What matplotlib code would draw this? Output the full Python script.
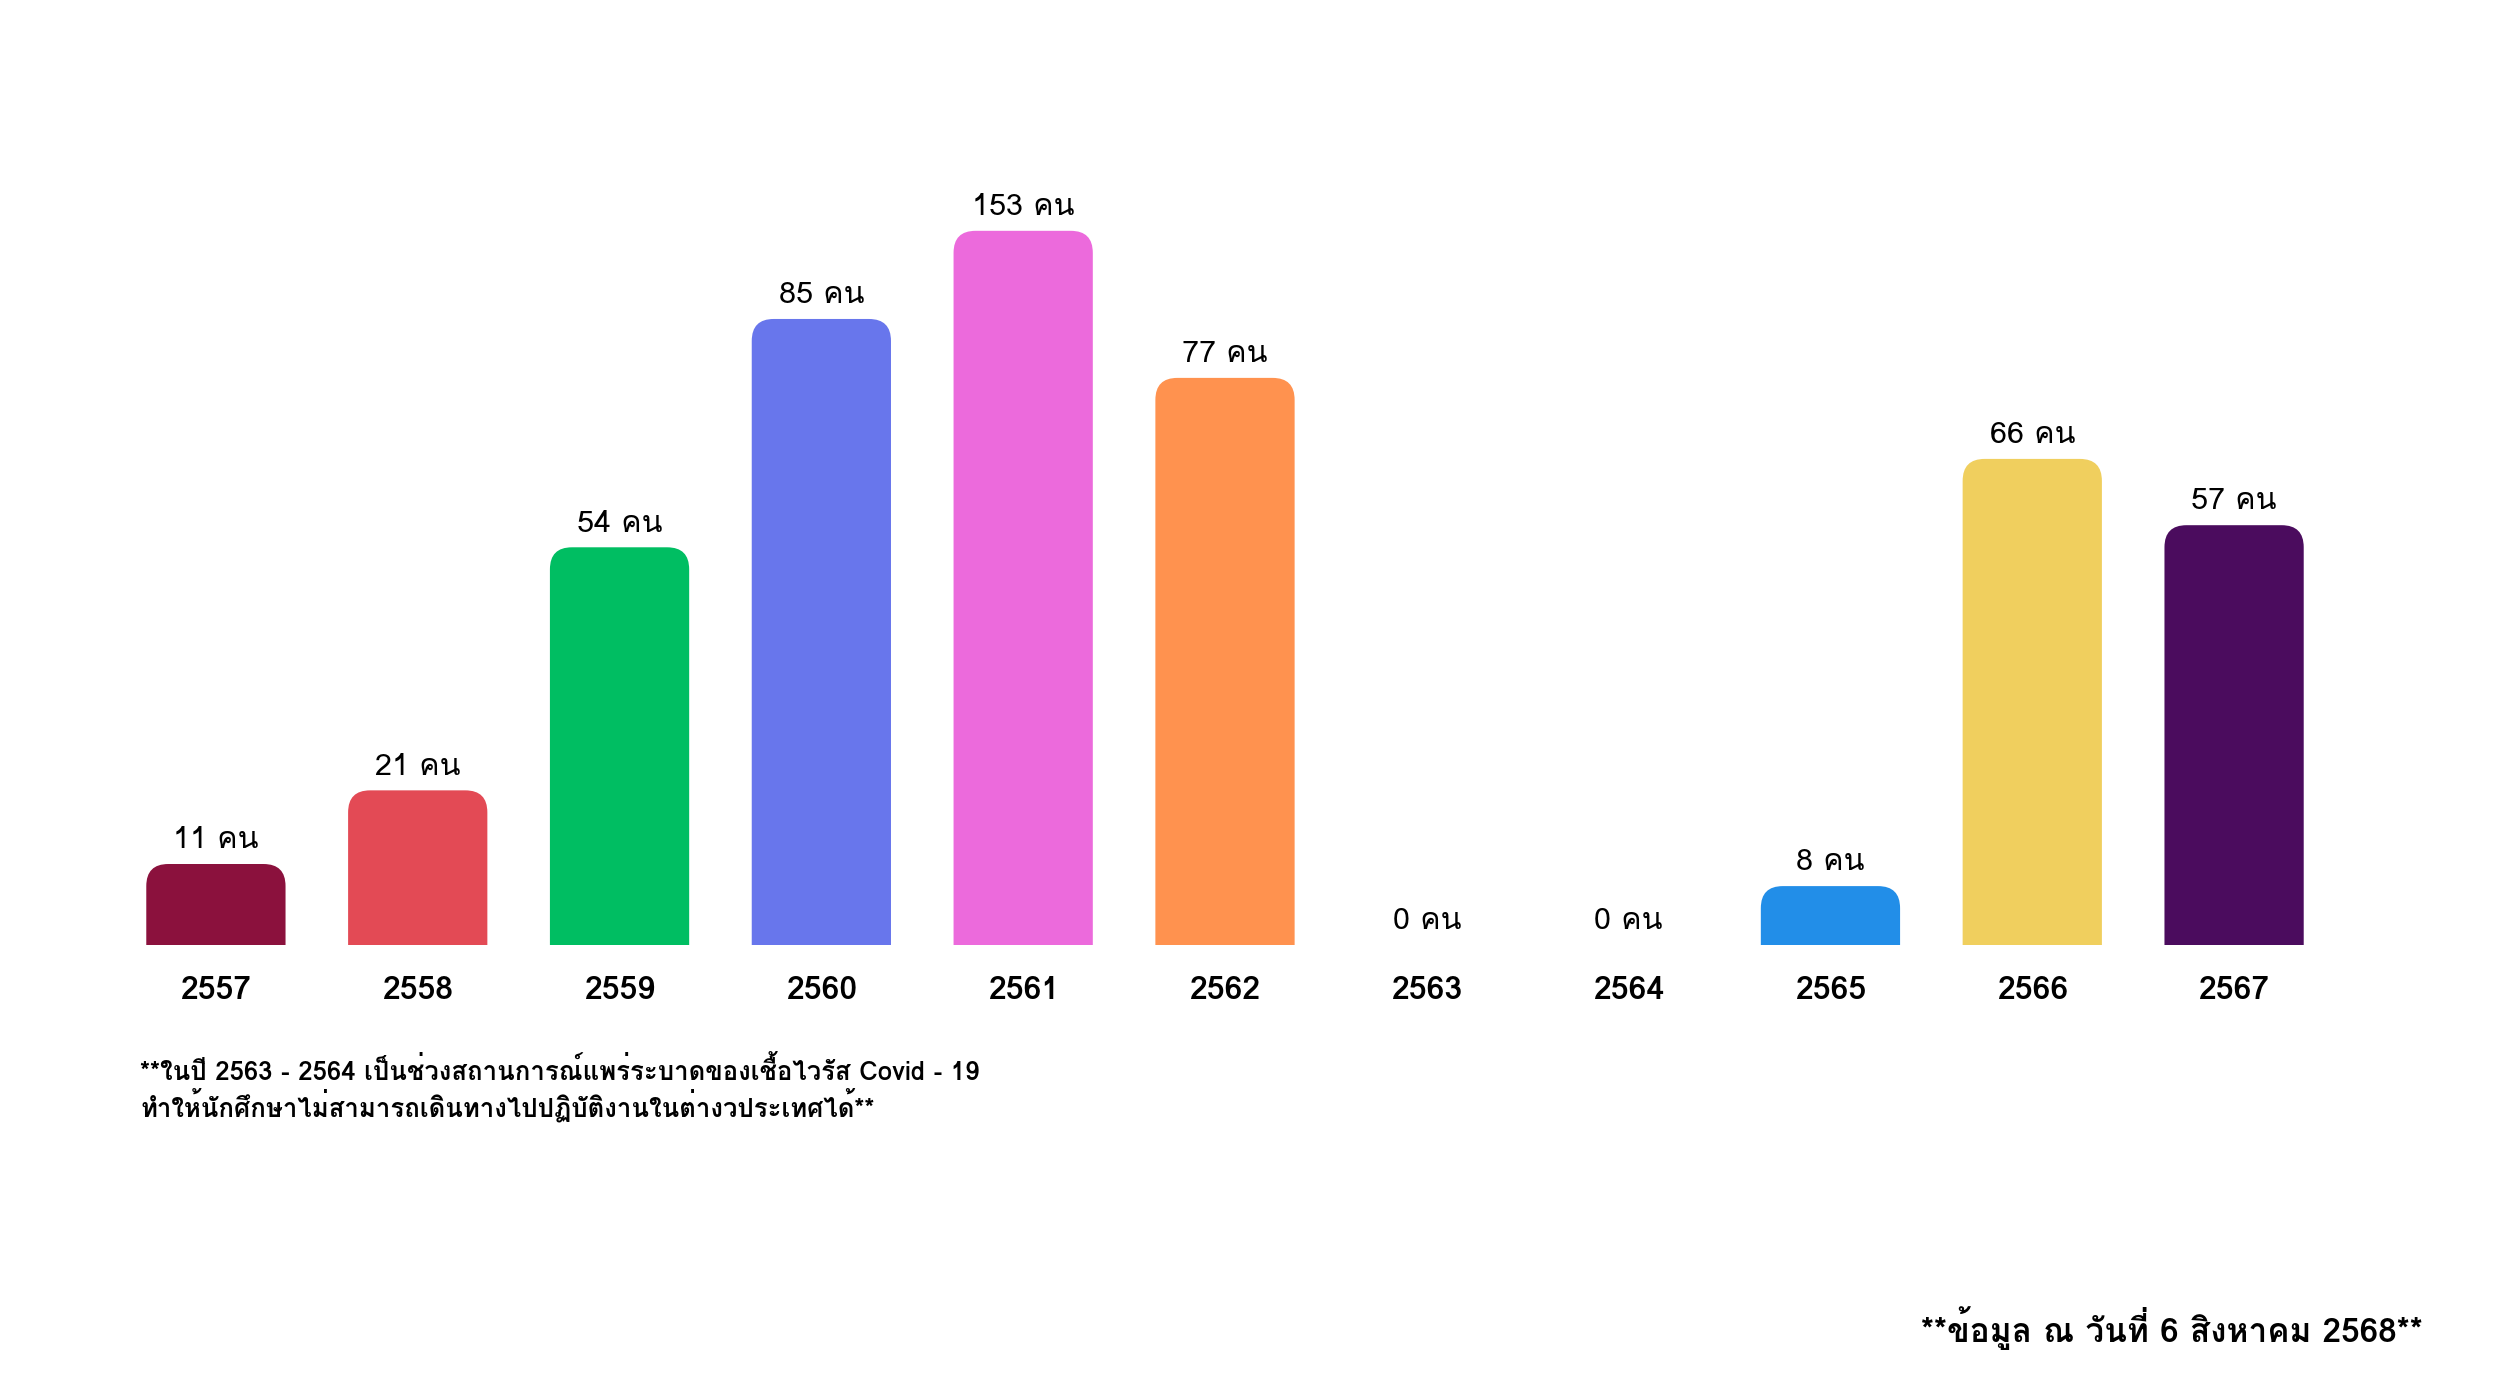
import numpy as np
import matplotlib
matplotlib.use('Agg')
import matplotlib.pyplot as plt
from matplotlib import font_manager
from matplotlib.ft2font import FT2Font
from matplotlib.patches import FancyBboxPatch
from matplotlib.transforms import IdentityTransform

years = ['2557', '2558', '2559', '2560', '2561', '2562', '2563', '2564', '2565', '2566', '2567']
students = [11, 21, 54, 85, 153, 77, 0, 0, 8, 66, 57]
colors = ['#8B113D', '#E34A55', '#00BE62', '#6876EC', '#EC6ADC', '#FF924F',
          '#FFFFFF', '#FFFFFF', '#228EE8', '#F0CF5E', '#4B0C5E']
unit = 'คน'
note_1 = '**ในปี 2563 - 2564 เป็นช่วงสถานการณ์แพร่ระบาดของเชื้อไวรัส Covid - 19'
note_2 = 'ทำให้นักศึกษาไม่สามารถเดินทางไปปฏิบัติงานในต่างวประเทศได้**'
source = '**ข้อมูล ณ วันที่ 6 สิงหาคม 2568**'


# find a font that has thai letters
def thai_fonts():
    found = []
    for f in font_manager.fontManager.ttflist:
        try:
            cmap = FT2Font(f.fname).get_charmap()
        except Exception:
            continue
        if 0x0E04 in cmap and f.name not in found:
            found.append(f.name)
    return found

thai = thai_fonts()
plt.rcParams['font.family'] = thai + ['DejaVu Sans']

# values above 85 are squeezed, like the original drawing
knots_in = [0, 85, 300]
knots_out = [0, 85, 85 + 215 * 0.176]
def fwd(v):
    return np.interp(v, knots_in, knots_out)
def inv(v):
    return np.interp(v, knots_out, knots_in)

fig = plt.figure(figsize=(25, 13.99), dpi=100)
ax = fig.add_axes([0.046, 0.3245, 0.888, 0.517])
ax.set_yscale('function', functions=(fwd, inv))

x = np.arange(len(years))
bars = ax.bar(x, students, width=0.69, color=colors)
ax.set_xlim(-0.5, len(years) - 0.5)
ax.set_ylim(0, 160)

ax.set_xticks(x)
ax.set_xticklabels(years, fontsize=23, fontweight='bold')
ax.tick_params(axis='x', length=0, pad=22)
ax.set_yticks([])
for s in ax.spines.values():
    s.set_visible(False)

# rounded tops: redraw each bar in pixels
fig.canvas.draw()
r = 22
for b in bars:
    b.set_visible(False)
    if b.get_height() <= 0:
        continue
    (x0, y0), (x1, y1) = ax.transData.transform([(b.get_x(), 0), (b.get_x() + b.get_width(), b.get_height())])
    p = FancyBboxPatch((x0, y0 - r), x1 - x0, y1 - y0 + r,
                       boxstyle=f'round,pad=0,rounding_size={r}',
                       facecolor=b.get_facecolor(), edgecolor='none',
                       transform=IdentityTransform())
    p.set_clip_box(ax.bbox)
    fig.add_artist(p)

for xi, v in zip(x, students):
    ax.annotate(f'{v} {unit}', (xi, v), xytext=(0, 7), textcoords='offset points',
                ha='center', va='bottom', fontsize=22, clip_on=False)

fig.text(0.056, 0.2345, note_1, fontsize=18.5, fontweight='bold', va='center', ha='left')
fig.text(0.056, 0.2094, note_2, fontsize=18.5, fontweight='bold', va='center', ha='left')
fig.text(0.969, 0.0507, source, fontsize=24, fontweight='bold', va='center', ha='right')

fig.savefig('out.png', dpi=100, facecolor='white')
